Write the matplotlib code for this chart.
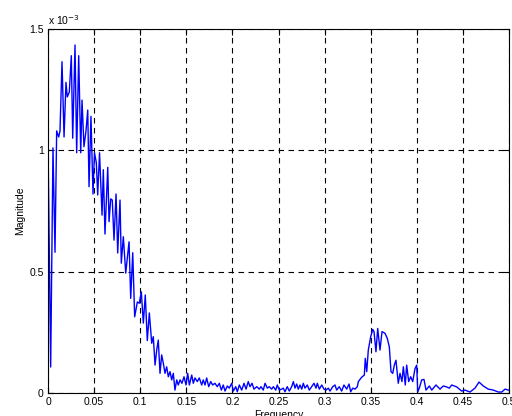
import numpy as np
import matplotlib
matplotlib.use("Agg")
import matplotlib.pyplot as plt

# frequency (normalised) and magnitude (x 1e-3)
freq = [0.0000, 0.0029, 0.0054, 0.0076, 0.0094, 0.0116, 0.0130, 0.0152, 0.0174, 0.0195,
        0.0209, 0.0231, 0.0253, 0.0268, 0.0293, 0.0311, 0.0333, 0.0355, 0.0369, 0.0390,
        0.0412, 0.0431, 0.0445, 0.0466, 0.0488, 0.0504, 0.0524, 0.0539, 0.0559, 0.0586,
        0.0600, 0.0618, 0.0648, 0.0662, 0.0680, 0.0697, 0.0716, 0.0738, 0.0756, 0.0781,
        0.0795, 0.0817, 0.0843, 0.0879, 0.0897, 0.0919, 0.0940, 0.0969, 0.0990, 0.1012,
        0.1034, 0.1055, 0.1077, 0.1099, 0.1125, 0.1142, 0.1161, 0.1179, 0.1196, 0.1215,
        0.1233, 0.1251, 0.1269, 0.1287, 0.1305, 0.1323, 0.1342, 0.1359, 0.1377, 0.1396,
        0.1413, 0.1432, 0.1453, 0.1475, 0.1497, 0.1515, 0.1533, 0.1559, 0.1576, 0.1594,
        0.1619, 0.1641, 0.1667, 0.1684, 0.1703, 0.1721, 0.1743, 0.1765, 0.1786, 0.1811,
        0.1836, 0.1858, 0.1880, 0.1901, 0.1920, 0.1945, 0.1966, 0.1992, 0.2010, 0.2036,
        0.2053, 0.2075, 0.2101, 0.2126, 0.2148, 0.2172, 0.2191, 0.2213, 0.2234, 0.2264,
        0.2292, 0.2310, 0.2335, 0.2354, 0.2379, 0.2400, 0.2426, 0.2444, 0.2470, 0.2487,
        0.2509, 0.2535, 0.2552, 0.2570, 0.2595, 0.2617, 0.2643, 0.2661, 0.2679, 0.2697,
        0.2715, 0.2733, 0.2752, 0.2769, 0.2787, 0.2812, 0.2834, 0.2860, 0.2885, 0.2907,
        0.2921, 0.2943, 0.2969, 0.2993, 0.3015, 0.3040, 0.3059, 0.3088, 0.3113, 0.3131,
        0.3159, 0.3185, 0.3210, 0.3240, 0.3265, 0.3283, 0.3305, 0.3330, 0.3355, 0.3366,
        0.3402, 0.3431, 0.3441, 0.3457, 0.3474, 0.3500, 0.3522, 0.3536, 0.3557, 0.3576,
        0.3601, 0.3623, 0.3655, 0.3680, 0.3702, 0.3720, 0.3739, 0.3756, 0.3774, 0.3799,
        0.3818, 0.3839, 0.3854, 0.3875, 0.3890, 0.3912, 0.3934, 0.3956, 0.3980, 0.3999,
        0.4010, 0.4027, 0.4053, 0.4078, 0.4100, 0.4136, 0.4162, 0.4179, 0.4208, 0.4252,
        0.4287, 0.4324, 0.4352, 0.4379, 0.4433, 0.4487, 0.4523, 0.4577, 0.4631, 0.4675,
        0.4721, 0.4775, 0.4830, 0.4884, 0.4921, 0.4957, 0.4992]

mag = [1.030, 0.107, 1.010, 0.580, 1.080, 1.055, 1.080, 1.365, 1.055, 1.280,
       1.220, 1.240, 1.390, 1.050, 1.434, 0.990, 1.390, 0.990, 1.207, 1.015,
       1.080, 1.166, 0.850, 1.140, 0.820, 0.990, 0.950, 0.816, 0.990, 0.733,
       0.920, 0.655, 0.930, 0.706, 0.800, 0.795, 0.630, 0.820, 0.577, 0.795,
       0.535, 0.644, 0.494, 0.623, 0.390, 0.578, 0.314, 0.375, 0.370, 0.417,
       0.288, 0.404, 0.216, 0.330, 0.205, 0.232, 0.115, 0.177, 0.218, 0.081,
       0.157, 0.122, 0.081, 0.108, 0.067, 0.088, 0.054, 0.081, 0.012, 0.054,
       0.033, 0.054, 0.040, 0.067, 0.033, 0.081, 0.033, 0.074, 0.040, 0.062,
       0.047, 0.062, 0.033, 0.054, 0.033, 0.062, 0.026, 0.047, 0.033, 0.040,
       0.026, 0.040, 0.012, 0.033, 0.008, 0.029, 0.020, 0.040, 0.008, 0.026,
       0.005, 0.033, 0.012, 0.040, 0.016, 0.047, 0.026, 0.040, 0.016, 0.026,
       0.016, 0.026, 0.012, 0.040, 0.020, 0.026, 0.016, 0.026, 0.012, 0.033,
       0.012, 0.016, 0.020, 0.005, 0.026, 0.008, 0.026, 0.047, 0.020, 0.037,
       0.016, 0.033, 0.016, 0.040, 0.020, 0.033, 0.012, 0.026, 0.040, 0.020,
       0.040, 0.016, 0.033, 0.016, 0.012, 0.020, 0.008, 0.026, 0.033, 0.012,
       0.026, 0.008, 0.033, 0.016, 0.037, 0.005, 0.020, 0.016, 0.026, 0.047,
       0.065, 0.074, 0.143, 0.088, 0.177, 0.232, 0.262, 0.253, 0.170, 0.266,
       0.177, 0.253, 0.246, 0.225, 0.190, 0.088, 0.081, 0.115, 0.135, 0.040,
       0.081, 0.047, 0.108, 0.033, 0.115, 0.047, 0.067, 0.047, 0.100, 0.115,
       0.005, 0.020, 0.054, 0.056, 0.012, 0.029, 0.012, 0.020, 0.033, 0.016,
       0.029, 0.025, 0.020, 0.033, 0.025, 0.008, 0.012, 0.004, 0.020, 0.045,
       0.029, 0.016, 0.012, 0.004, 0.004, 0.016, 0.012]

xticks = [0, 0.05, 0.1, 0.15, 0.2, 0.25, 0.3, 0.35, 0.4, 0.45, 0.5]
xtick_labels = ["0", "0.05", "0.1", "0.15", "0.2", "0.25", "0.3", "0.35", "0.4", "0.45", "0.5"]
yticks = [0, 0.5, 1, 1.5]
ytick_labels = ["0", "0.5", "1", "1.5"]

plt.rcParams['font.family'] = ['Liberation Sans', 'DejaVu Sans']

fig = plt.figure(figsize=(5.12, 4.16), dpi=100)
ax = fig.add_axes([48 / 512, 23 / 416, 461 / 512, 364 / 416])

ax.plot(freq, mag, color=(0, 0, 1), linewidth=1.0)

ax.set_xlim(0, 0.5)
ax.set_ylim(0, 1.5)
ax.set_xticks(xticks)
ax.set_xticklabels(xtick_labels)
ax.set_yticks(yticks)
ax.set_yticklabels(ytick_labels)
ax.tick_params(direction='in', length=4, width=0.8, labelsize=7.5, pad=3,
               top=True, right=True)

ax.grid(True, color='k', linestyle=(0, (5, 4)), linewidth=0.8)
for s in ax.spines.values():
    s.set_linewidth(0.8)

ax.set_xlabel("Frequency", fontsize=7.5, labelpad=2)
ax.set_ylabel("Magnitude", fontsize=7.5, labelpad=3)
ax.text(0.0, 1.005, r"x 10$^{-3}$", transform=ax.transAxes, fontsize=7.5,
        ha='left', va='bottom')

plt.savefig("out.png", dpi=100)
